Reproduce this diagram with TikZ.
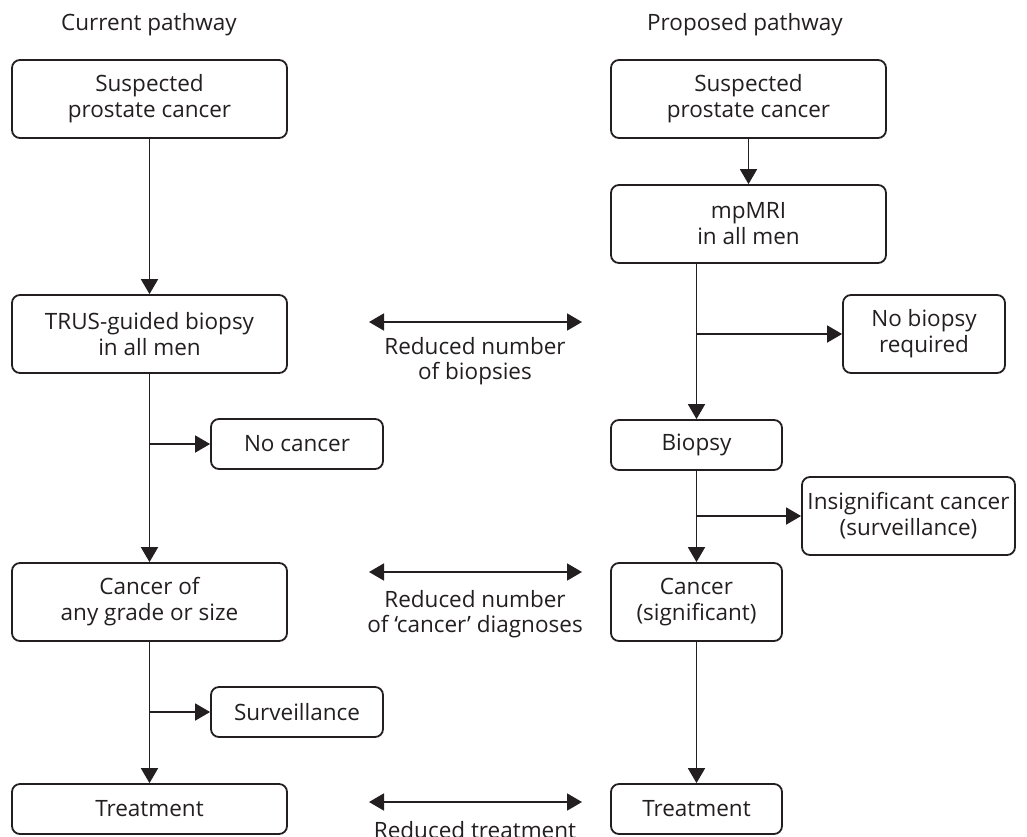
\documentclass[tikz,border=0pt]{standalone}
\usepackage{fontspec}
\setmainfont{Open Sans}
\usetikzlibrary{arrows.meta}
\definecolor{ink}{HTML}{231F20}
\begin{document}
\begin{tikzpicture}[x=1pt,y=-1pt,
  box/.style={draw=ink, line width=1.8pt, rounded corners=8pt, align=center, text=ink, inner sep=0pt, font=\fontsize{22.5}{26}\selectfont},
  lbl/.style={text=ink, align=center, inner sep=0pt, font=\fontsize{22.5}{25}\selectfont},
  conn/.style={draw=ink, line width=1.8pt, -{Triangle[length=15pt,width=17pt]}},
  dbl/.style={draw=ink, line width=1.8pt, {Triangle[length=15pt,width=17pt]}-{Triangle[length=15pt,width=17pt]}},
  wide/.style={minimum width=275pt},
  narrow/.style={minimum width=171pt},
  tall/.style={minimum height=78pt},
  short/.style={minimum height=50pt}]
\useasboundingbox (0,0) rectangle (1027,836);

% titles
\node[lbl, anchor=base] (t1) at (149,30) {Current pathway};
\node[lbl, anchor=base] (t2) at (745,30) {Proposed pathway};

% left column
\node[box, wide, tall] (s1) at (149.5,99) {Suspected\\prostate cancer};
\node[box, wide, tall] (trus) at (149.5,334) {TRUS-guided biopsy\\in all men};
\node[box, minimum width=172pt, short] (nocancer) at (297,444) {No cancer};
\node[box, wide, tall] (anyc) at (149.5,602) {Cancer of\\any grade or size};
\node[box, minimum width=172pt, short] (surv) at (297,712) {Surveillance};
\node[box, wide, short] (treatL) at (149.5,809) {Treatment};

% right column
\node[box, wide, tall] (s2) at (748.5,99) {Suspected\\prostate cancer};
\node[box, wide, tall] (mri) at (748.5,224) {mpMRI\\in all men};
\node[box, minimum width=162pt, tall] (nobiopsy) at (924,334) {No biopsy\\required};
\node[box, narrow, short] (biopsy) at (696.5,445) {Biopsy};
\node[box, minimum width=213pt, tall] (insig) at (908.5,516) {Insignificant cancer\\(surveillance)};
\node[box, narrow, tall] (sig) at (696.5,602) {Cancer\\(significant)};
\node[box, narrow, short] (treatR) at (696.5,809) {Treatment};

% left connectors
\draw[conn] (s1) -- (trus);
\draw[conn] (trus) -- (anyc);
\draw[conn] (trus.south |- nocancer.west) -- (nocancer.west);
\draw[conn] (anyc) -- (treatL);
\draw[conn] (anyc.south |- surv.west) -- (surv.west);

% right connectors
\draw[conn] (s2) -- (mri);
\draw[conn] (mri.south -| biopsy.north) -- (biopsy.north);
\draw[conn] (biopsy.north |- nobiopsy.west) -- (nobiopsy.west);
\draw[conn] (biopsy) -- (sig);
\draw[conn] (biopsy.south |- insig.west) -- (insig.west);
\draw[conn] (sig) -- (treatR);

% comparison arrows
\coordinate (a1l) at (369,322);
\coordinate (a1r) at (582,322);
\coordinate (a2l) at (369,572);
\coordinate (a2r) at (582,572);
\coordinate (a3l) at (369,802);
\coordinate (a3r) at (582,802);
\draw[dbl] (a1l) -- (a1r);
\draw[dbl] (a2l) -- (a2r);
\draw[dbl] (a3l) -- (a3r);
\node[lbl] (l1) at (475,361) {Reduced number\\of biopsies};
\node[lbl] (l2) at (475,614) {Reduced number\\of ‘cancer’ diagnoses};
\node[lbl, anchor=base] (l3) at (475,838) {Reduced treatment};
\end{tikzpicture}
\end{document}
